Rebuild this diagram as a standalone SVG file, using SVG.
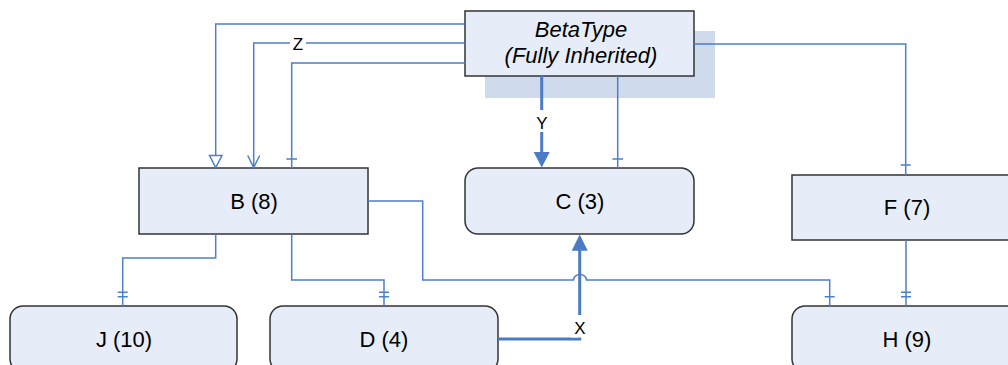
<svg xmlns="http://www.w3.org/2000/svg" width="1008" height="365" viewBox="0 0 1008 365">
<style>
.box{fill:#e6edf8;stroke:#333;stroke-width:1.5}
.t{font-family:"Liberation Sans",Arial,sans-serif;font-size:22px;fill:#000;text-anchor:middle}
.lbl{font-family:"Liberation Sans",Arial,sans-serif;font-size:17px;fill:#000;text-anchor:middle}
.ln{fill:none;stroke:#4f7fc6;stroke-width:1.5}
.thk{fill:none;stroke:#4a7bc4;stroke-width:3}
.fa{fill:#4a7bc4;stroke:none}
</style>
<rect width="1008" height="365" fill="#fff"/>
<g id="BetaType">
<rect x="485" y="31" width="230" height="67" fill="#cfdaec"/>
<rect class="box" x="465" y="11" width="229" height="65"/>
<text class="t" x="581" y="37" font-style="italic">BetaType</text>
<text class="t" x="581" y="63" font-style="italic">(Fully Inherited)</text>
</g>
<g id="B"><rect class="box" x="139" y="168" width="229" height="66"/><text class="t" x="254" y="209">B (8)</text></g>
<g id="C"><rect class="box" x="465" y="168" width="229" height="66" rx="13"/><text class="t" x="580" y="209">C (3)</text></g>
<g id="F"><rect class="box" x="792" y="175" width="229" height="65"/><text class="t" x="907" y="215">F (7)</text></g>
<g id="J"><rect class="box" x="10" y="306" width="227" height="66" rx="13"/><text class="t" x="124" y="347">J (10)</text></g>
<g id="D"><rect class="box" x="270" y="306" width="228" height="66" rx="13"/><text class="t" x="384" y="347">D (4)</text></g>
<g id="H"><rect class="box" x="792" y="306" width="229" height="66" rx="13"/><text class="t" x="907" y="347">H (9)</text></g>
<g id="connectors">
<!-- Beta to B (generalization) -->
<path class="ln" d="M465 24 H215.7 V155.5"/>
<path d="M209.5 155.5 H222 L215.7 167.7 Z" fill="#fff" stroke="#4f7fc6" stroke-width="1.5"/>
<!-- Beta to B (Z) -->
<path class="ln" d="M465 43 H253.7 V167.5"/>
<path class="ln" d="M247.7 155.5 L253.7 167.5 L259.7 155.5"/>
<rect x="290" y="35" width="16" height="16" fill="#fff"/>
<text class="lbl" x="298" y="50">Z</text>
<!-- Beta to B bar -->
<path class="ln" d="M465 63 H291.7 V168 M286.4 159 H297"/>
<!-- Y -->
<path class="thk" d="M541.7 76 V153"/>
<path class="fa" d="M533.7 152 H549.7 L541.7 167.5 Z"/>
<rect x="533" y="110" width="18" height="22" fill="#fff"/>
<text class="lbl" x="542" y="129">Y</text>
<!-- Beta to C -->
<path class="ln" d="M617.7 76 V168 M612.4 159 H623"/>
<!-- Beta to F -->
<path class="ln" d="M694 44 H905.7 V175 M900.7 165 H910.7"/>
<!-- F to H -->
<path class="ln" d="M906 240 V306 M901 292.3 H911 M901 296.7 H911"/>
<!-- B to J -->
<path class="ln" d="M215.7 234 V258 H122.7 V306 M117.7 292.3 H127.7 M117.7 296.7 H127.7"/>
<!-- B to D -->
<path class="ln" d="M291.7 234 V280 H384 V306 M379 292.3 H389 M379 296.7 H389"/>
<!-- B to H with hop -->
<path class="ln" d="M368 201 H422.7 V280 H573.5 A6.5 5.5 0 0 1 586.5 280 H829.7 V306 M824.7 296.7 H834.7"/>
<!-- X: D to C -->
<path class="thk" d="M498 339 H579.7 V249"/>
<path class="fa" d="M571.7 250.7 H587.7 L579.7 234.5 Z"/>
<rect x="571" y="315" width="18" height="22.5" fill="#fff"/>
<text class="lbl" x="580" y="334">X</text>
</g>
</svg>
